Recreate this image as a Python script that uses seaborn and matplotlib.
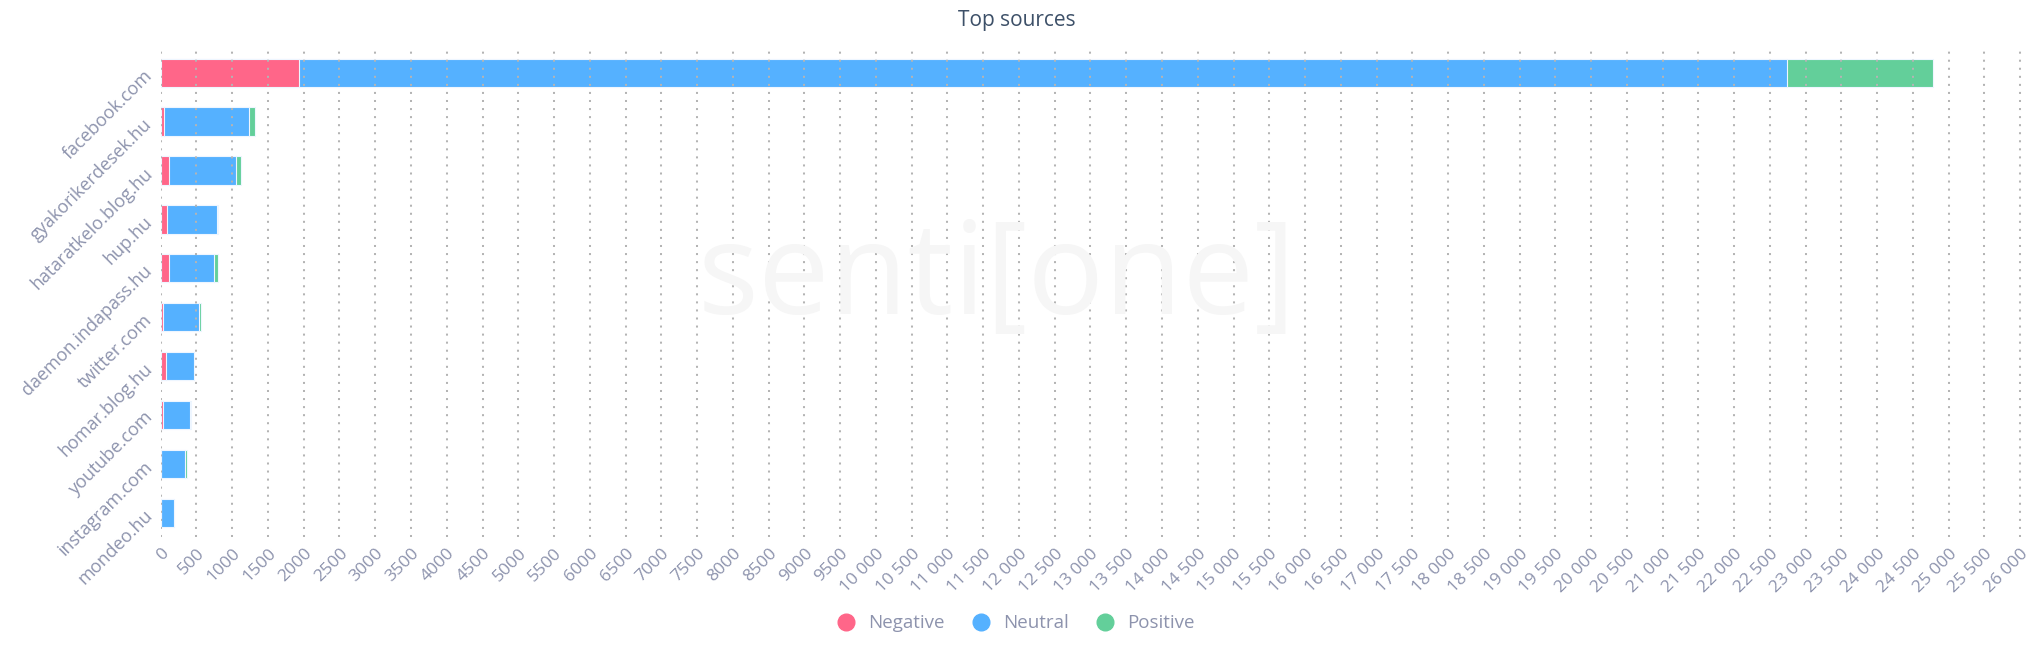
import numpy as np
import pandas as pd
import matplotlib
matplotlib.use("Agg")
import matplotlib.pyplot as plt
import seaborn as sns
from matplotlib.lines import Line2D
from matplotlib.ticker import FuncFormatter, MultipleLocator

# data
sources = ["facebook.com", "gyakorikerdesek.hu", "hataratkelo.blog.hu", "hup.hu",
           "daemon.indapass.hu", "twitter.com", "homar.blog.hu", "youtube.com",
           "instagram.com", "mondeo.hu"]
negative = [1936, 50, 120, 93, 120, 37, 79, 37, 8, 5]
neutral = [20802, 1180, 935, 690, 630, 494, 382, 368, 327, 185]
positive = [2040, 93, 70, 22, 55, 37, 0, 23, 37, 0]

colors = {"Negative": "#ff6689", "Neutral": "#55b1ff", "Positive": "#63cf9a"}
tick_color = "#8d93ad"

df = pd.DataFrame({"source": sources, "Negative": negative,
                   "Neutral": neutral, "Positive": positive})
df["neg_neu"] = df["Negative"] + df["Neutral"]
df["total"] = df["neg_neu"] + df["Positive"]

sns.set_theme(style="white")
plt.rcParams["font.family"] = ["Open Sans", "DejaVu Sans"]

fig = plt.figure(figsize=(20.34, 6.52), dpi=100)
ax = fig.add_axes([0.079, 0.176, 0.916, 0.750])

# stacked bars by overlaying cumulative totals
for col, name in [("total", "Positive"), ("neg_neu", "Neutral"), ("Negative", "Negative")]:
    sns.barplot(data=df, x=col, y="source", orient="h", color=colors[name],
                saturation=1, width=0.58, edgecolor="#eef6ff", linewidth=0.8, ax=ax)

ax.set_xlim(0, 26050)
ax.xaxis.set_major_locator(MultipleLocator(500))
ax.xaxis.set_major_formatter(FuncFormatter(lambda v, p: f"{int(v):,}".replace(",", " ")
                                           if v >= 10000 else f"{int(v)}"))
ax.set_xlabel("")
ax.set_ylabel("")
sns.despine(ax=ax, left=True, bottom=True)

ax.set_axisbelow(False)
ax.grid(axis="x", color="#b4b4b4", linestyle=(0, (1, 3)), linewidth=1.45)
ax.grid(axis="y", visible=False)

ax.tick_params(axis="both", length=0, colors=tick_color, labelsize=12.5)
ax.tick_params(axis="x", pad=6)
ax.tick_params(axis="y", pad=8)
for lbl in ax.get_xticklabels():
    lbl.set_rotation(45)
    lbl.set_ha("right")
    lbl.set_rotation_mode("anchor")
for lbl in ax.get_yticklabels():
    lbl.set_rotation(45)
    lbl.set_ha("right")
    lbl.set_va("center")
    lbl.set_rotation_mode("anchor")
    lbl.set_fontsize(13)

fig.text(0.5, 0.968, "Top sources", ha="center", va="center",
         fontsize=15, color="#3d5068")

# faint watermark
fig.text(0.49, 0.57, "senti[one]", ha="center", va="center", fontsize=92,
         color="#f6f6f6", zorder=0)

handles = [Line2D([0], [0], marker="o", linestyle="", markersize=12,
                  markerfacecolor=colors[k], markeredgecolor=colors[k], label=k)
           for k in ["Negative", "Neutral", "Positive"]]
leg = fig.legend(handles=handles, loc="center", bbox_to_anchor=(0.497, 0.044), ncol=3,
                 frameon=False, fontsize=13.5, handletextpad=0.2, columnspacing=0.9)
for t in leg.get_texts():
    t.set_color(tick_color)

fig.savefig("out.png", dpi=100)
